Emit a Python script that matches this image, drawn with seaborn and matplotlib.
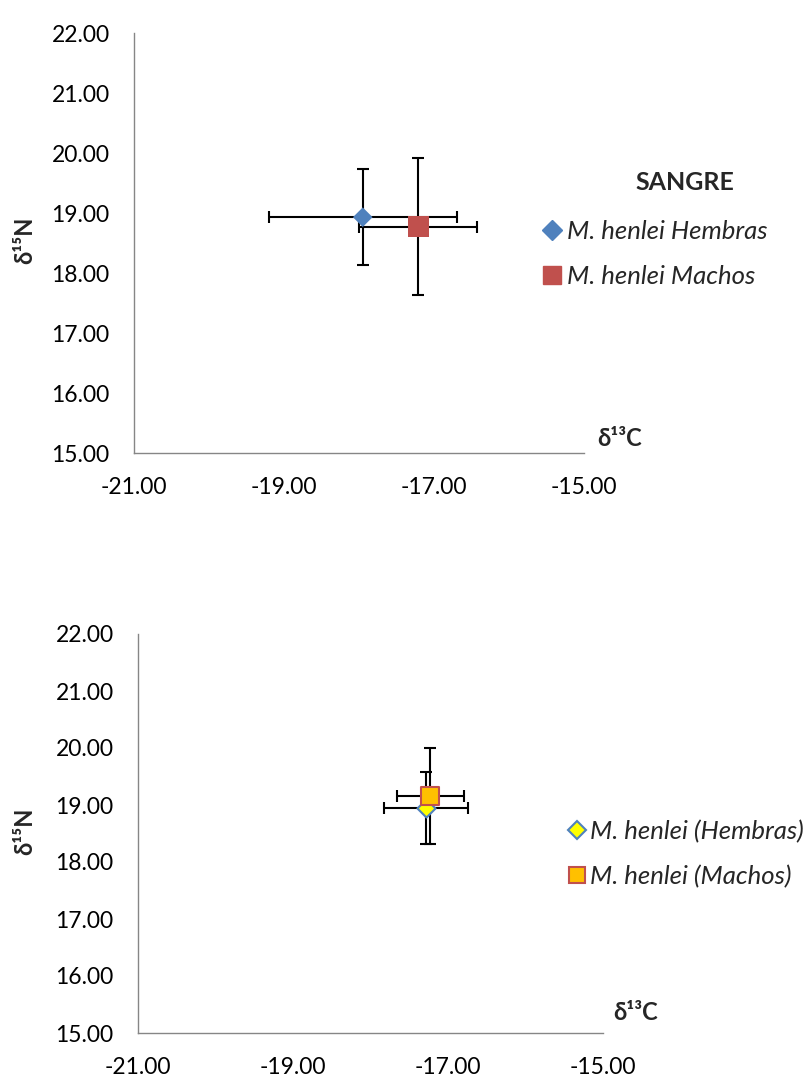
import matplotlib
matplotlib.use("Agg")
import matplotlib.pyplot as plt
import seaborn as sns
import pandas as pd
from matplotlib.lines import Line2D
from matplotlib.ticker import FormatStrFormatter

# ---------------- data ----------------
groups_top = ["M. henlei Hembras", "M. henlei Machos"]
c13_top = [-17.95, -17.21]
n15_top = [18.93, 18.77]
c13_err_top = [1.25, 0.79]
n15_err_top = [0.80, 1.14]

groups_bot = ["M. henlei (Hembras)", "M. henlei (Machos)"]
c13_bot = [-17.28, -17.23]
n15_bot = [18.95, 19.16]
c13_err_bot = [0.54, 0.43]
n15_err_bot = [0.63, 0.84]

x_ticks = [-21, -19, -17, -15]
y_ticks = [15, 16, 17, 18, 19, 20, 21, 22]

# ---------------- style ----------------
sns.set_style("white")
plt.rcParams["font.family"] = ["Lato", "DejaVu Sans"]

W, H = 809, 1080
fig = plt.figure(figsize=(W / 100, H / 100), dpi=100)

def px_axes(x0, y0, x1, y1):
    return fig.add_axes([x0 / W, 1 - y1 / H, (x1 - x0) / W, (y1 - y0) / H])

ax1 = px_axes(134, 33, 584, 453)
ax2 = px_axes(138, 634, 603, 1033)

AXC = "#868686"

def style_axes(ax):
    ax.set_xlim(x_ticks[0], x_ticks[-1])
    ax.set_ylim(y_ticks[0], y_ticks[-1])
    ax.set_xticks(x_ticks)
    ax.set_yticks(y_ticks)
    ax.xaxis.set_major_formatter(FormatStrFormatter("%.2f"))
    ax.yaxis.set_major_formatter(FormatStrFormatter("%.2f"))
    for s in ["top", "right"]:
        ax.spines[s].set_visible(False)
    for s in ["left", "bottom"]:
        ax.spines[s].set_color(AXC)
        ax.spines[s].set_linewidth(1.0)
    ax.tick_params(axis="both", direction="out", length=4.5, width=1.0,
                   color=AXC, labelcolor="black", labelsize=16.5)
    ax.tick_params(axis="x", pad=13)
    ax.tick_params(axis="y", pad=13)
    ax.set_xlabel("")
    ax.set_ylabel("")
    ax.grid(False)

# ---------------- top chart ----------------
df_top = pd.DataFrame({"grupo": groups_top, "c13": c13_top, "n15": n15_top})
ax1.errorbar(c13_top, n15_top, xerr=c13_err_top, yerr=n15_err_top, fmt="none",
             ecolor="black", elinewidth=1.5, capsize=4.5, capthick=1.5, zorder=2)
sns.scatterplot(data=df_top, x="c13", y="n15", hue="grupo", style="grupo",
                size="grupo",
                sizes={groups_top[0]: 100, groups_top[1]: 225},
                markers={groups_top[0]: "D", groups_top[1]: "s"},
                palette={groups_top[0]: "#4F81BD", groups_top[1]: "#C0504D"},
                edgecolor=None, linewidth=0, legend=False, ax=ax1, zorder=3)
style_axes(ax1)

# ---------------- bottom chart ----------------
df_bot = pd.DataFrame({"grupo": groups_bot, "c13": c13_bot, "n15": n15_bot})
ax2.errorbar(c13_bot, n15_bot, xerr=c13_err_bot, yerr=n15_err_bot, fmt="none",
             ecolor="black", elinewidth=1.5, capsize=4.5, capthick=1.5, zorder=2)
sns.scatterplot(data=df_bot.iloc[[0]], x="c13", y="n15", marker="D", s=85,
                color="#FFFF00", edgecolor="#4F81BD", linewidth=1.5,
                legend=False, ax=ax2, zorder=3)
sns.scatterplot(data=df_bot.iloc[[1]], x="c13", y="n15", marker="s", s=160,
                color="#FFC000", edgecolor="#C0504D", linewidth=1.5,
                legend=False, ax=ax2, zorder=4)
style_axes(ax2)

# ---------------- axis titles ----------------
lab_kw = dict(fontsize=17, fontweight="bold", family=["Lato", "DejaVu Sans"],
              ha="center", va="center")
fig.text(25 / W, 1 - 240 / H, "δ¹⁵N", rotation=90, **lab_kw)
fig.text(25 / W, 1 - 831 / H, "δ¹⁵N", rotation=90, **lab_kw)
fig.text(620 / W, 1 - 439 / H, "δ¹³C", **lab_kw)
fig.text(636 / W, 1 - 1013 / H, "δ¹³C", **lab_kw)

# ---------------- legends ----------------
fig.text(685 / W, 1 - 182 / H, "SANGRE", fontsize=18, fontweight="bold",
         ha="center", va="center")

h_top = [Line2D([], [], linestyle="none", marker="D", markersize=10.5,
                markerfacecolor="#4F81BD", markeredgecolor="#4F81BD"),
         Line2D([], [], linestyle="none", marker="s", markersize=12.5,
                markerfacecolor="#C0504D", markeredgecolor="#C0504D")]
leg1 = fig.legend(h_top, groups_top, loc="center left",
                  bbox_to_anchor=(542 / W, 1 - 254 / H),
                  frameon=False, handlelength=0.8, handletextpad=0.17,
                  labelspacing=0.88, borderpad=0, borderaxespad=0,
                  prop={"size": 18.5, "style": "italic"})

h_bot = [Line2D([], [], linestyle="none", marker="D", markersize=9.5,
                markerfacecolor="#FFFF00", markeredgecolor="#4F81BD",
                markeredgewidth=1.5),
         Line2D([], [], linestyle="none", marker="s", markersize=11.5,
                markerfacecolor="#FFC000", markeredgecolor="#C0504D",
                markeredgewidth=1.5)]
leg2 = fig.legend(h_bot, groups_bot, loc="center left",
                  bbox_to_anchor=(567 / W, 1 - 854 / H),
                  frameon=False, handlelength=0.8, handletextpad=0.1,
                  labelspacing=0.85, borderpad=0, borderaxespad=0,
                  prop={"size": 18.5, "style": "italic"})

fig.savefig("out.png", dpi=100)
